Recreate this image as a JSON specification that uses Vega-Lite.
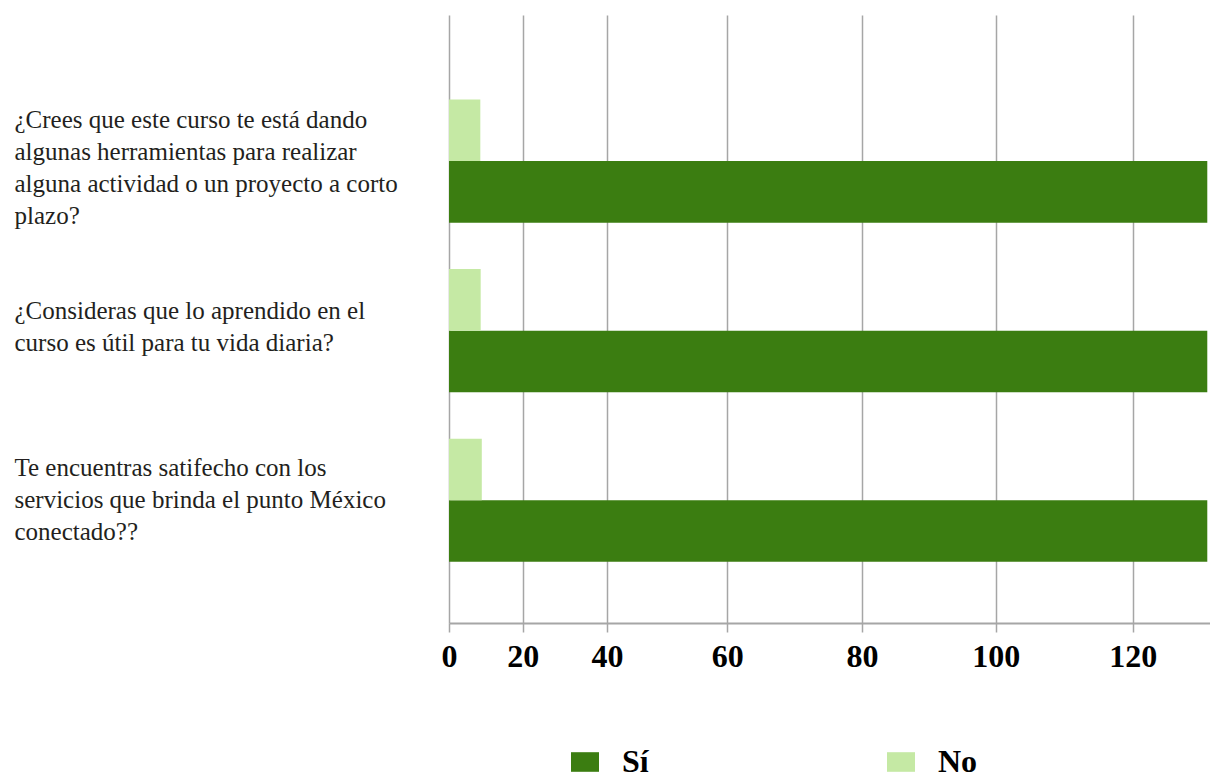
{
  "$schema": "https://vega.github.io/schema/vega-lite/v6.json",
  "width": 780,
  "height": 608,
  "autosize": {"type": "none"},
  "padding": {"left": 430, "top": 15, "right": 0, "bottom": 155},
  "background": "white",
  "data": {
    "values": [
      {"pregunta": "¿Crees que este curso te está dando algunas herramientas para realizar alguna actividad o un proyecto a corto plazo?", "respuesta": "Sí", "total": 131},
      {"pregunta": "¿Crees que este curso te está dando algunas herramientas para realizar alguna actividad o un proyecto a corto plazo?", "respuesta": "No", "total": 8.5},
      {"pregunta": "¿Consideras que lo aprendido en el curso es útil para tu vida diaria?", "respuesta": "Sí", "total": 131},
      {"pregunta": "¿Consideras que lo aprendido en el curso es útil para tu vida diaria?", "respuesta": "No", "total": 8.6},
      {"pregunta": "Te encuentras satifecho con los servicios que brinda el punto México conectado??", "respuesta": "Sí", "total": 131},
      {"pregunta": "Te encuentras satifecho con los servicios que brinda el punto México conectado??", "respuesta": "No", "total": 8.9}
    ]
  },
  "mark": {"type": "bar", "clip": true},
  "encoding": {
    "y": {
      "field": "pregunta",
      "type": "nominal",
      "sort": [
        "¿Crees que este curso te está dando algunas herramientas para realizar alguna actividad o un proyecto a corto plazo?",
        "¿Consideras que lo aprendido en el curso es útil para tu vida diaria?",
        "Te encuentras satifecho con los servicios que brinda el punto México conectado??"
      ],
      "scale": {"paddingInner": 0.274, "paddingOuter": 0.43, "align": 0.58},
      "axis": {
        "title": null,
        "domain": false,
        "ticks": false,
        "grid": false,
        "labelAlign": "left",
        "labelBaseline": "middle",
        "labelPadding": 416,
        "labelFont": "Liberation Serif",
        "labelFontSize": 25,
        "labelColor": "#231f20",
        "labelLineHeight": 32,
        "labelLimit": 0,
        "labelOffset": {
          "condition": [
            {"test": "indexof(datum.value, 'Crees') >= 0", "value": -41},
            {"test": "indexof(datum.value, 'Consideras') >= 0", "value": -20}
          ],
          "value": -32
        },
        "labelExpr": "indexof(datum.value, 'Crees') >= 0 ? ['¿Crees que este curso te está dando', 'algunas herramientas para realizar', 'alguna actividad o un proyecto a corto', 'plazo?'] : indexof(datum.value, 'Consideras') >= 0 ? ['¿Consideras que lo aprendido en el', 'curso es útil para tu vida diaria?'] : ['Te encuentras satifecho con los', 'servicios que brinda el punto México', 'conectado??']"
      }
    },
    "yOffset": {
      "field": "respuesta",
      "type": "nominal",
      "sort": ["No", "Sí"],
      "scale": {"paddingInner": 0, "paddingOuter": 0}
    },
    "x": {
      "field": "total",
      "type": "quantitative",
      "scale": {
        "domain": [0, 20, 40, 60, 80, 100, 120, 131.4],
        "range": [19, 92.7, 177, 297.3, 432, 565.7, 702.7, 780],
        "zero": false,
        "nice": false
      },
      "axis": {
        "title": null,
        "values": [0, 20, 40, 60, 80, 100, 120],
        "grid": true,
        "gridColor": "#a6a6a6",
        "gridWidth": 1.5,
        "domainColor": "#a6a6a6",
        "domainWidth": 2,
        "tickColor": "#a6a6a6",
        "tickSize": 9,
        "tickWidth": 1.5,
        "labelFont": "Liberation Serif",
        "labelFontWeight": "bold",
        "labelFontSize": 32,
        "labelColor": "#000000",
        "labelPadding": 9,
        "labelFlush": false,
        "labelOverlap": false
      }
    },
    "color": {
      "field": "respuesta",
      "type": "nominal",
      "scale": {"domain": ["Sí", "No"], "range": ["#3b7d11", "#c5e9a4"]},
      "legend": {
        "title": null,
        "orient": "none",
        "legendX": 139,
        "legendY": 731,
        "direction": "horizontal",
        "columns": 2,
        "columnPadding": 236,
        "symbolType": "M-1,-0.7H1V0.7H-1Z",
        "symbolSize": 784,
        "symbolStrokeWidth": 0,
        "symbolOpacity": 1,
        "labelFont": "Liberation Serif",
        "labelFontWeight": "bold",
        "labelFontSize": 32,
        "labelColor": "#000000",
        "labelOffset": 21,
        "labelLimit": 0,
        "padding": 0
      }
    }
  },
  "config": {"view": {"stroke": null}}
}
